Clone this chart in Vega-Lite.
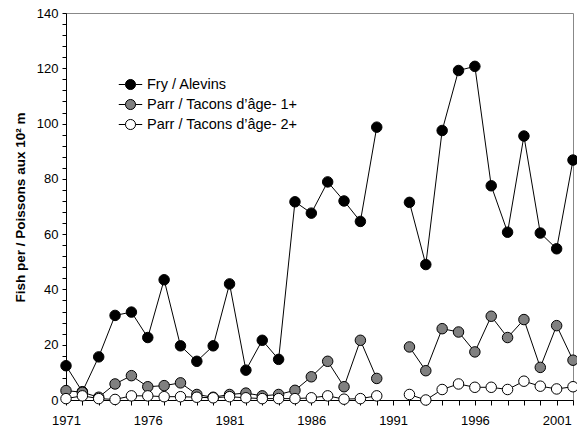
{
  "$schema": "https://vega.github.io/schema/vega-lite/v6.json",
  "width": 507,
  "height": 387,
  "autosize": {"type": "none"},
  "padding": {"left": 66, "top": 13, "right": 4, "bottom": 28},
  "background": "white",
  "config": {"view": {"stroke": "#888888", "strokeWidth": 1}, "font": "Liberation Sans"},
  "data": {"values": [
    {"year": 1971, "series": "Fry / Alevins", "value": 12.4},
    {"year": 1972, "series": "Fry / Alevins", "value": 3},
    {"year": 1973, "series": "Fry / Alevins", "value": 15.6},
    {"year": 1974, "series": "Fry / Alevins", "value": 30.6},
    {"year": 1975, "series": "Fry / Alevins", "value": 31.8},
    {"year": 1976, "series": "Fry / Alevins", "value": 22.6},
    {"year": 1977, "series": "Fry / Alevins", "value": 43.5},
    {"year": 1978, "series": "Fry / Alevins", "value": 19.6},
    {"year": 1979, "series": "Fry / Alevins", "value": 14},
    {"year": 1980, "series": "Fry / Alevins", "value": 19.6},
    {"year": 1981, "series": "Fry / Alevins", "value": 42},
    {"year": 1982, "series": "Fry / Alevins", "value": 10.8},
    {"year": 1983, "series": "Fry / Alevins", "value": 21.6},
    {"year": 1984, "series": "Fry / Alevins", "value": 14.7},
    {"year": 1985, "series": "Fry / Alevins", "value": 71.7},
    {"year": 1986, "series": "Fry / Alevins", "value": 67.6},
    {"year": 1987, "series": "Fry / Alevins", "value": 78.9},
    {"year": 1988, "series": "Fry / Alevins", "value": 72},
    {"year": 1989, "series": "Fry / Alevins", "value": 64.6},
    {"year": 1990, "series": "Fry / Alevins", "value": 98.7},
    {"year": 1991, "series": "Fry / Alevins", "value": null},
    {"year": 1992, "series": "Fry / Alevins", "value": 71.5},
    {"year": 1993, "series": "Fry / Alevins", "value": 49},
    {"year": 1994, "series": "Fry / Alevins", "value": 97.5},
    {"year": 1995, "series": "Fry / Alevins", "value": 119.2},
    {"year": 1996, "series": "Fry / Alevins", "value": 120.7},
    {"year": 1997, "series": "Fry / Alevins", "value": 77.5},
    {"year": 1998, "series": "Fry / Alevins", "value": 60.7},
    {"year": 1999, "series": "Fry / Alevins", "value": 95.5},
    {"year": 2000, "series": "Fry / Alevins", "value": 60.4},
    {"year": 2001, "series": "Fry / Alevins", "value": 54.7},
    {"year": 2002, "series": "Fry / Alevins", "value": 86.8},
    {"year": 1971, "series": "Parr / Tacons d’âge- 1+", "value": 3.4},
    {"year": 1972, "series": "Parr / Tacons d’âge- 1+", "value": 2.8},
    {"year": 1973, "series": "Parr / Tacons d’âge- 1+", "value": 1},
    {"year": 1974, "series": "Parr / Tacons d’âge- 1+", "value": 5.8},
    {"year": 1975, "series": "Parr / Tacons d’âge- 1+", "value": 8.8},
    {"year": 1976, "series": "Parr / Tacons d’âge- 1+", "value": 4.8},
    {"year": 1977, "series": "Parr / Tacons d’âge- 1+", "value": 5.2},
    {"year": 1978, "series": "Parr / Tacons d’âge- 1+", "value": 6.2},
    {"year": 1979, "series": "Parr / Tacons d’âge- 1+", "value": 2},
    {"year": 1980, "series": "Parr / Tacons d’âge- 1+", "value": 1},
    {"year": 1981, "series": "Parr / Tacons d’âge- 1+", "value": 2},
    {"year": 1982, "series": "Parr / Tacons d’âge- 1+", "value": 2.5},
    {"year": 1983, "series": "Parr / Tacons d’âge- 1+", "value": 1.5},
    {"year": 1984, "series": "Parr / Tacons d’âge- 1+", "value": 2},
    {"year": 1985, "series": "Parr / Tacons d’âge- 1+", "value": 3.5},
    {"year": 1986, "series": "Parr / Tacons d’âge- 1+", "value": 8.4},
    {"year": 1987, "series": "Parr / Tacons d’âge- 1+", "value": 14},
    {"year": 1988, "series": "Parr / Tacons d’âge- 1+", "value": 4.8},
    {"year": 1989, "series": "Parr / Tacons d’âge- 1+", "value": 21.6},
    {"year": 1990, "series": "Parr / Tacons d’âge- 1+", "value": 7.8},
    {"year": 1991, "series": "Parr / Tacons d’âge- 1+", "value": null},
    {"year": 1992, "series": "Parr / Tacons d’âge- 1+", "value": 19.2},
    {"year": 1993, "series": "Parr / Tacons d’âge- 1+", "value": 10.6},
    {"year": 1994, "series": "Parr / Tacons d’âge- 1+", "value": 25.8},
    {"year": 1995, "series": "Parr / Tacons d’âge- 1+", "value": 24.6},
    {"year": 1996, "series": "Parr / Tacons d’âge- 1+", "value": 17.4},
    {"year": 1997, "series": "Parr / Tacons d’âge- 1+", "value": 30.3},
    {"year": 1998, "series": "Parr / Tacons d’âge- 1+", "value": 22.6},
    {"year": 1999, "series": "Parr / Tacons d’âge- 1+", "value": 29.1},
    {"year": 2000, "series": "Parr / Tacons d’âge- 1+", "value": 11.8},
    {"year": 2001, "series": "Parr / Tacons d’âge- 1+", "value": 26.9},
    {"year": 2002, "series": "Parr / Tacons d’âge- 1+", "value": 14.4},
    {"year": 1971, "series": "Parr / Tacons d’âge- 2+", "value": 0.5},
    {"year": 1972, "series": "Parr / Tacons d’âge- 2+", "value": 1.5},
    {"year": 1973, "series": "Parr / Tacons d’âge- 2+", "value": 0.5},
    {"year": 1974, "series": "Parr / Tacons d’âge- 2+", "value": 0.2},
    {"year": 1975, "series": "Parr / Tacons d’âge- 2+", "value": 1.5},
    {"year": 1976, "series": "Parr / Tacons d’âge- 2+", "value": 1.5},
    {"year": 1977, "series": "Parr / Tacons d’âge- 2+", "value": 1.2},
    {"year": 1978, "series": "Parr / Tacons d’âge- 2+", "value": 1.2},
    {"year": 1979, "series": "Parr / Tacons d’âge- 2+", "value": 1},
    {"year": 1980, "series": "Parr / Tacons d’âge- 2+", "value": 0.8},
    {"year": 1981, "series": "Parr / Tacons d’âge- 2+", "value": 1.2},
    {"year": 1982, "series": "Parr / Tacons d’âge- 2+", "value": 0.8},
    {"year": 1983, "series": "Parr / Tacons d’âge- 2+", "value": 0.5},
    {"year": 1984, "series": "Parr / Tacons d’âge- 2+", "value": 0.5},
    {"year": 1985, "series": "Parr / Tacons d’âge- 2+", "value": 0.5},
    {"year": 1986, "series": "Parr / Tacons d’âge- 2+", "value": 0.8},
    {"year": 1987, "series": "Parr / Tacons d’âge- 2+", "value": 1.5},
    {"year": 1988, "series": "Parr / Tacons d’âge- 2+", "value": 0.3},
    {"year": 1989, "series": "Parr / Tacons d’âge- 2+", "value": 0.5},
    {"year": 1990, "series": "Parr / Tacons d’âge- 2+", "value": 1.5},
    {"year": 1991, "series": "Parr / Tacons d’âge- 2+", "value": null},
    {"year": 1992, "series": "Parr / Tacons d’âge- 2+", "value": 2},
    {"year": 1993, "series": "Parr / Tacons d’âge- 2+", "value": 0},
    {"year": 1994, "series": "Parr / Tacons d’âge- 2+", "value": 3.8},
    {"year": 1995, "series": "Parr / Tacons d’âge- 2+", "value": 5.8},
    {"year": 1996, "series": "Parr / Tacons d’âge- 2+", "value": 4.6},
    {"year": 1997, "series": "Parr / Tacons d’âge- 2+", "value": 4.6},
    {"year": 1998, "series": "Parr / Tacons d’âge- 2+", "value": 3.8},
    {"year": 1999, "series": "Parr / Tacons d’âge- 2+", "value": 6.8},
    {"year": 2000, "series": "Parr / Tacons d’âge- 2+", "value": 5},
    {"year": 2001, "series": "Parr / Tacons d’âge- 2+", "value": 4},
    {"year": 2002, "series": "Parr / Tacons d’âge- 2+", "value": 4.8}
  ]},
  "encoding": {
    "x": {
      "field": "year", "type": "quantitative",
      "scale": {"domain": [1971, 2002], "nice": false, "zero": false},
      "axis": {
        "title": null, "grid": false,
        "values": [1971,1972,1973,1974,1975,1976,1977,1978,1979,1980,1981,1982,1983,1984,1985,1986,1987,1988,1989,1990,1991,1992,1993,1994,1995,1996,1997,1998,1999,2000,2001,2002],
        "format": "d",
        "labelExpr": "(datum.value - 1971) % 5 == 0 ? datum.label : ''",
        "labelFlush": false, "labelOverlap": false,
        "domainColor": "black", "tickColor": "black", "tickSize": 5,
        "labelColor": "black", "labelFontSize": 13, "labelPadding": 9,
        "labelFont": "Liberation Sans"
      }
    },
    "y": {
      "field": "value", "type": "quantitative",
      "scale": {"domain": [0, 140], "nice": false},
      "axis": {
        "title": "Fish per / Poissons aux 10² m",
        "titleFontWeight": "bold", "titleFontSize": 13.5, "titleColor": "black",
        "titleFont": "Liberation Sans",
        "titleAngle": 270, "titleBaseline": "middle", "titleAlign": "center",
        "titleX": -46, "titleY": 194,
        "grid": false,
        "values": [0,4,8,12,16,20,24,28,32,36,40,44,48,52,56,60,64,68,72,76,80,84,88,92,96,100,104,108,112,116,120,124,128,132,136,140],
        "labelExpr": "datum.value % 20 == 0 ? datum.label : ''",
        "labelFlush": false, "labelOverlap": false,
        "domainColor": "black", "tickColor": "black", "tickSize": 4,
        "labelColor": "black", "labelFontSize": 13, "labelPadding": 4,
        "labelFont": "Liberation Sans"
      }
    }
  },
  "layer": [
    {
      "mark": {"type": "line", "color": "black", "strokeWidth": 1, "invalid": "break-paths-show-domains"},
      "encoding": {"detail": {"field": "series", "type": "nominal"}}
    },
    {
      "mark": {"type": "circle", "size": 110, "stroke": "black", "strokeWidth": 1, "opacity": 1},
      "encoding": {
        "fill": {
          "field": "series", "type": "nominal",
          "scale": {"domain": ["Fry / Alevins", "Parr / Tacons d’âge- 1+", "Parr / Tacons d’âge- 2+"], "range": ["black", "#808080", "white"]},
          "legend": {
            "title": null, "orient": "none", "legendX": 52, "legendY": 59,
            "symbolType": "M-1,0H-0.43M0.43,0A0.43,0.43,0,1,1,-0.43,0A0.43,0.43,0,1,1,0.43,0ZM0.43,0H1",
            "symbolSize": 550, "symbolStrokeColor": "black", "symbolStrokeWidth": 1, "symbolOpacity": 1,
            "labelFontSize": 14.5, "labelFont": "Liberation Sans", "labelColor": "black",
            "rowPadding": 0, "padding": 0, "labelOffset": 4
          }
        }
      }
    }
  ]
}
